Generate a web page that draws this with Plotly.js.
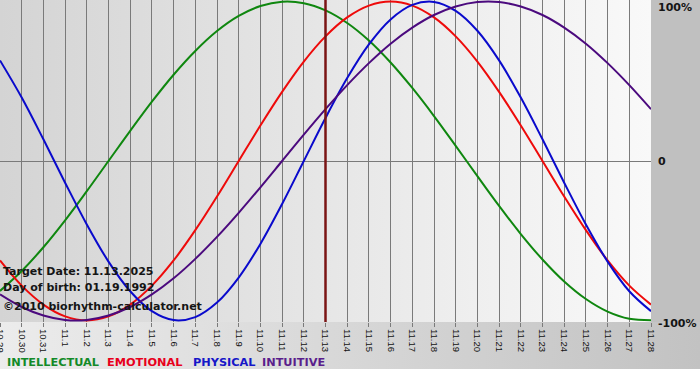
<!DOCTYPE html>
<html>
<head>
<meta charset="utf-8">
<script src="https://cdn.plot.ly/plotly-3.0.1.min.js"></script>
<style>
  html, body { margin: 0; padding: 0; background: #ffffff; }
  #chart {
    width: 700px; height: 380px;
    background:
      linear-gradient(to right, #d4d4d4, #f9f9f9) 0 0 / 651px 322px no-repeat,
      linear-gradient(#c0c0c0, #c0c0c0) 651px 0 / 49px 322px no-repeat,
      linear-gradient(to right, #ececec, #c2c2c2) 0 322px / 700px 47px no-repeat,
      #ffffff;
  }
</style>
</head>
<body>
<div id="chart"></div>
<script>
const days = ['10.29','10.30','10.31','11.1','11.2','11.3','11.4','11.5','11.6','11.7','11.8','11.9','11.10',
  '11.11','11.12','11.13','11.14','11.15','11.16','11.17','11.18','11.19','11.20','11.21','11.22','11.23',
  '11.24','11.25','11.26','11.27','11.28'];
const targetDay = '11.13';

const intellectual = [-0.815,-0.690,-0.541,-0.372,-0.189,0.000,0.189,0.372,0.541,0.690,0.815,0.910,0.972,
  0.999,0.990,0.945,0.866,0.756,0.618,0.458,0.282,0.095,-0.095,-0.282,-0.458,-0.618,-0.756,-0.866,-0.945,-0.990,-0.999];
const emotional = [-0.624,-0.782,-0.901,-0.975,-1.000,-0.975,-0.901,-0.782,-0.624,-0.434,-0.223,0.000,0.223,
  0.434,0.624,0.782,0.901,0.975,1.000,0.975,0.901,0.782,0.624,0.434,0.223,0.000,-0.223,-0.434,-0.624,-0.782,-0.901];
const physical = [0.631,0.398,0.136,-0.136,-0.398,-0.631,-0.817,-0.942,-0.998,-0.979,-0.888,-0.731,-0.520,
  -0.270,0.000,0.270,0.520,0.731,0.888,0.979,0.998,0.942,0.817,0.631,0.398,0.136,-0.136,-0.398,-0.631,-0.817,-0.942];
const intuitive = [-0.837,-0.916,-0.969,-0.997,-0.997,-0.969,-0.916,-0.837,-0.736,-0.614,-0.476,-0.325,-0.165,
  0.000,0.165,0.325,0.476,0.614,0.736,0.837,0.916,0.969,0.997,0.997,0.969,0.916,0.837,0.736,0.614,0.476,0.325];

const seriesNames = ['INTELLECTUAL','EMOTIONAL','PHYSICAL','INTUITIVE'];
const lineColors = ['#0f870f','#ee0a0a','#0a0acc','#4b0a7e'];
const labelColors = ['#138a28','#e8001c','#1616c8','#5a1e8c'];
const seriesData = [intellectual, emotional, physical, intuitive];

const traces = seriesData.map((vals, k) => ({
  type: 'scatter', mode: 'lines', x: days, y: vals, name: seriesNames[k],
  line: {color: lineColors[k], width: 2, shape: 'spline', smoothing: 1},
  hoverinfo: 'skip'
}));

const boldFont = {family: 'DejaVu Sans, Verdana, sans-serif', size: 11, color: '#151515', weight: 'bold'};
const py = p => (322 - p) / 322;

const annotations = [
  {text: '<b>Target Date: 11.13.2025</b>', y: py(271)},
  {text: '<b>Day of birth: 01.19.1992</b>', y: py(287)},
  {text: '<b>©2010 biorhythm-calculator.net</b>', y: py(306)}
].map(a => ({xref: 'paper', yref: 'paper', x: 0, xanchor: 'left', xshift: 1, y: a.y, yanchor: 'middle',
  text: a.text, showarrow: false, font: boldFont}));

// right-side value labels
[['<b>100%</b>', py(7.5)], ['<b>0</b>', py(162)], ['<b>-100%</b>', py(323)]].forEach(([t, y]) => {
  annotations.push({xref: 'paper', yref: 'paper', x: 1, xanchor: 'left', xshift: 5, y: y, yanchor: 'middle',
    text: t, showarrow: false, font: boldFont});
});

// colored legend words
const legendX = [5, 105, 191, 260];
seriesNames.forEach((n, k) => {
  annotations.push({xref: 'paper', yref: 'paper', x: legendX[k] / 651, xanchor: 'left', y: py(362), yanchor: 'middle',
    text: '<b>' + n + '</b>', showarrow: false, font: Object.assign({}, boldFont, {size: 11.3, color: labelColors[k]})});
});

const targetIndex = days.indexOf(targetDay);

const layout = {
  width: 700, height: 380,
  margin: {l: 0, r: 49, t: 0, b: 58},
  paper_bgcolor: 'rgba(0,0,0,0)', plot_bgcolor: 'rgba(0,0,0,0)',
  showlegend: false,
  xaxis: {
    type: 'category', range: [0, 30], fixedrange: true,
    showgrid: true, gridcolor: '#7a7a7a', gridwidth: 1,
    ticks: 'outside', ticklen: 4, tickcolor: '#7a7a7a', tickangle: 90,
    tickfont: {family: 'Liberation Sans, Arial, sans-serif', size: 9.5, color: '#111111'},
    showline: false, zeroline: false
  },
  yaxis: {
    range: [-1.01, 1.01], fixedrange: true, showgrid: false, showticklabels: false, ticks: '',
    zeroline: true, zerolinecolor: '#7a7a7a', zerolinewidth: 1, showline: false
  },
  shapes: [{type: 'line', xref: 'x', yref: 'paper', x0: targetIndex, x1: targetIndex, y0: 0, y1: 1,
    line: {color: '#7a1414', width: 2.5}}],
  annotations: annotations
};

Plotly.newPlot('chart', traces, layout, {staticPlot: true, displayModeBar: false});
</script>
</body>
</html>
